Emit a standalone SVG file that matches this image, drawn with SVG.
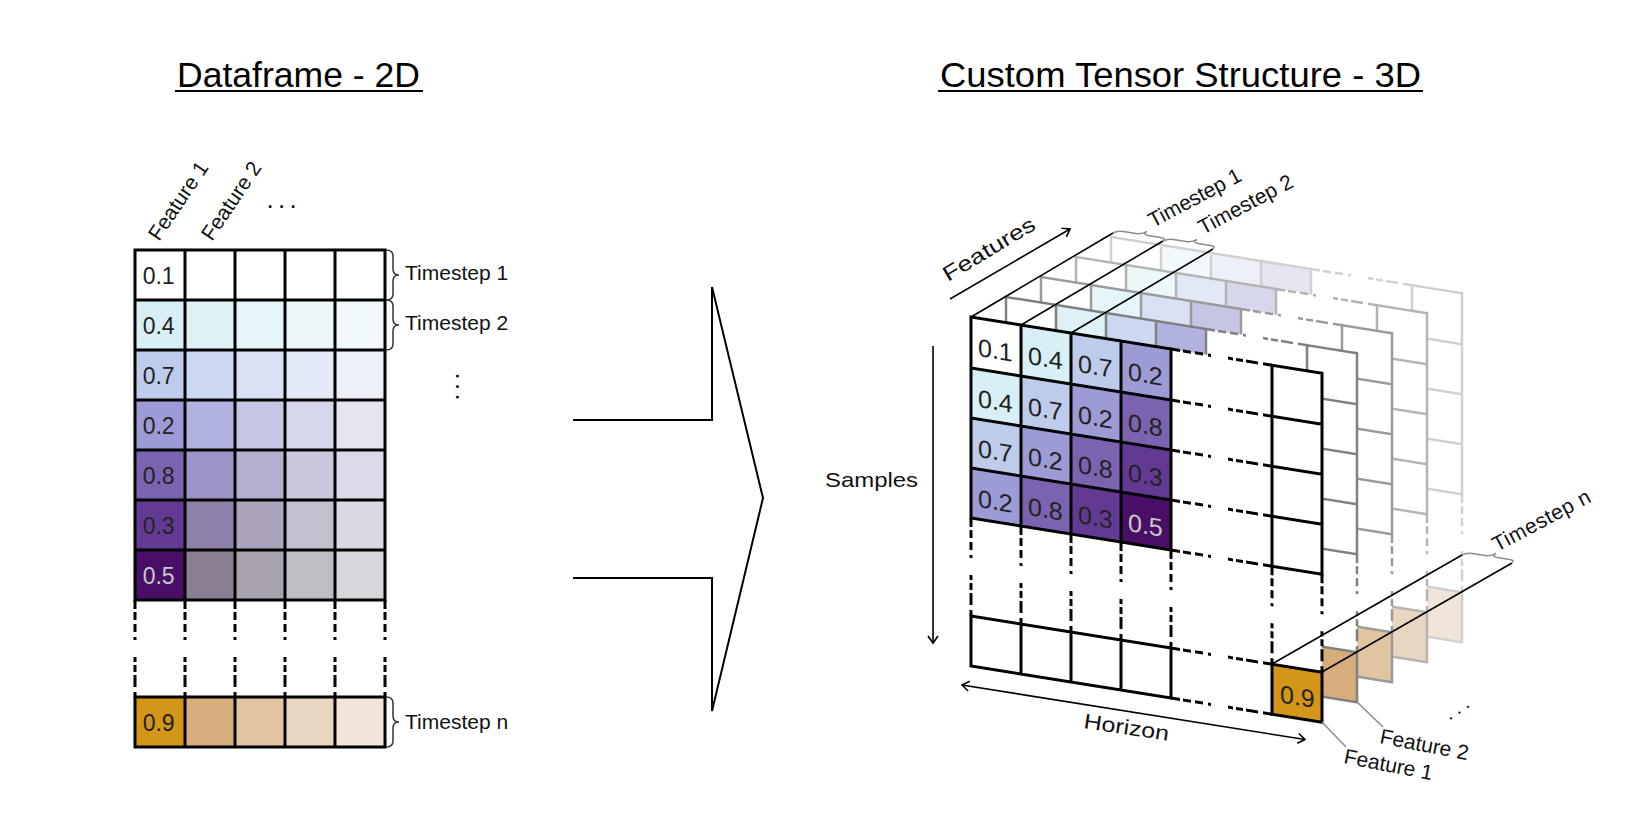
<svg xmlns="http://www.w3.org/2000/svg" width="1637" height="838" viewBox="0 0 1637 838">
<style>
text{font-family:"Liberation Sans",Arial,sans-serif}
.t{font-size:35px;fill:#000}
.ul{stroke:#000;stroke-width:1.8}
.num{font-size:23px;fill:#222}
.n3{font-size:25px}
.lt{fill:#C8C8C8}
.lbl{font-size:21px;fill:#111}
.g{fill:none;stroke-linecap:square}
.gd{fill:none;stroke-dasharray:9 3 8 4 8 5 3 17 5 3 7 3 12 5 10}
.ln{fill:none;stroke:#000;stroke-width:1.6}
.br{fill:none;stroke:#8c8c8c;stroke-width:1.5}
.lbr{fill:none;stroke:#333;stroke-width:1.5}
.lead{stroke:#8c8c8c;stroke-width:1.5}
.dots{fill:#111}
</style>
<defs>
<marker id="ah" viewBox="-9 -7 11 14" refX="0" refY="0" markerWidth="11" markerHeight="14" orient="auto-start-reverse" markerUnits="userSpaceOnUse"><path d="M-7,-5L0,0L-7,5" fill="none" stroke="#000" stroke-width="1.6"/></marker>
<g id="slab">
<path class="g" d="M0,0H200M0,51H200M0,101H200M0,151H200M0,201H200M0,0V201M50,0V201M100,0V201M150,0V201M200,0V201M0,299H200M0,349H200M0,299V349M50,299V349M100,299V349M150,299V349M200,299V349M301,0H351M301,51H351M301,101H351M301,151H351M301,201H351M301,299H351M301,349H351M301,0V201M351,0V201M301,299V349M351,299V349"/>
<path class="gd" d="M0,201V299M50,201V299M100,201V299M150,201V299M200,201V299M301,201V299M351,201V299M200,0H301M200,51H301M200,101H301M200,151H301M200,201H301M200,299H301M200,349H301"/>
</g>
<path id="brace" vector-effect="non-scaling-stroke" d="M0,0Q0,5 6,5L19,5Q25,5 25,11Q25,5 31,5L44,5Q50,5 50,0"/>
<path id="vbrace" d="M0,0Q7,0 7,6L7,19Q7,25 13,25Q7,25 7,31L7,44Q7,50 0,50"/>
</defs>

<g id="titles">
<text class="t" x="177" y="87" textLength="243" lengthAdjust="spacingAndGlyphs">Dataframe - 2D</text>
<line class="ul" x1="175" y1="91" x2="423" y2="91"/>
<text class="t" x="940" y="87" textLength="481" lengthAdjust="spacingAndGlyphs">Custom Tensor Structure - 3D</text>
<line class="ul" x1="938" y1="91" x2="1423" y2="91"/>
</g>

<g id="dataframe">
<rect x="135" y="250" width="250" height="350" fill="#fff"/>
<rect x="135" y="300" width="50" height="50" fill="#D7EFF5"/><rect x="185" y="300" width="50" height="50" fill="#DDF1F7"/><rect x="235" y="300" width="50" height="50" fill="#E6F5F9"/><rect x="285" y="300" width="50" height="50" fill="#ECF7FA"/><rect x="335" y="300" width="50" height="50" fill="#F2F9FC"/>
<rect x="135" y="350" width="50" height="50" fill="#BFCBEA"/><rect x="185" y="350" width="50" height="50" fill="#CCD8F2"/><rect x="235" y="350" width="50" height="50" fill="#D8E0F4"/><rect x="285" y="350" width="50" height="50" fill="#E2E8F6"/><rect x="335" y="350" width="50" height="50" fill="#EDF0F9"/>
<rect x="135" y="400" width="50" height="50" fill="#9C9BD6"/><rect x="185" y="400" width="50" height="50" fill="#B2B2E0"/><rect x="235" y="400" width="50" height="50" fill="#C5C5E5"/><rect x="285" y="400" width="50" height="50" fill="#D6D6EC"/><rect x="335" y="400" width="50" height="50" fill="#E5E5F1"/>
<rect x="135" y="450" width="50" height="50" fill="#7B63B0"/><rect x="185" y="450" width="50" height="50" fill="#9D93C7"/><rect x="235" y="450" width="50" height="50" fill="#B4AED1"/><rect x="285" y="450" width="50" height="50" fill="#CAC6DE"/><rect x="335" y="450" width="50" height="50" fill="#DCDAE8"/>
<rect x="135" y="500" width="50" height="50" fill="#633A93"/><rect x="185" y="500" width="50" height="50" fill="#8E81A9"/><rect x="235" y="500" width="50" height="50" fill="#ACA4BC"/><rect x="285" y="500" width="50" height="50" fill="#C3BFCF"/><rect x="335" y="500" width="50" height="50" fill="#DAD8E2"/>
<rect x="135" y="550" width="50" height="50" fill="#490F66"/><rect x="185" y="550" width="50" height="50" fill="#8A7F92"/><rect x="235" y="550" width="50" height="50" fill="#A7A2AD"/><rect x="285" y="550" width="50" height="50" fill="#C0BEC5"/><rect x="335" y="550" width="50" height="50" fill="#D7D6DA"/>
<rect x="135" y="697" width="50" height="50" fill="#D39618"/><rect x="185" y="697" width="50" height="50" fill="#D8AD7C"/><rect x="235" y="697" width="50" height="50" fill="#E1C5A3"/><rect x="285" y="697" width="50" height="50" fill="#E9D6C0"/><rect x="335" y="697" width="50" height="50" fill="#F1E5D9"/>
<g style="stroke:#000;stroke-width:3">
<path class="g" d="M135,250H385M135,300H385M135,350H385M135,400H385M135,450H385M135,500H385M135,550H385M135,600H385M135,250V600M185,250V600M235,250V600M285,250V600M335,250V600M385,250V600M135,697H385M135,747H385M135,697V747M185,697V747M235,697V747M285,697V747M335,697V747M385,697V747"/>
<path class="gd" d="M135,600V697M185,600V697M235,600V697M285,600V697M335,600V697M385,600V697"/>
</g>
<text class="num" x="142.7" y="283.5">0.1</text>
<text class="num" x="142.7" y="333.5">0.4</text>
<text class="num" x="142.7" y="383.5">0.7</text>
<text class="num" x="142.7" y="433.5">0.2</text>
<text class="num" x="142.7" y="483.5">0.8</text>
<text class="num" x="142.7" y="533.5">0.3</text>
<text class="num lt" x="142.7" y="583.5">0.5</text>
<text class="num" x="142.7" y="730.5">0.9</text>
<text class="lbl" font-size="20" transform="translate(159,242) rotate(-56)">Feature 1</text>
<text class="lbl" font-size="20" transform="translate(212,242) rotate(-56)">Feature 2</text>
<text class="dots" font-size="26" letter-spacing="4.3" x="266.4" y="208">...</text>
<use href="#vbrace" class="lbr" transform="translate(386,250)"/>
<use href="#vbrace" class="lbr" transform="translate(386,300)"/>
<use href="#vbrace" class="lbr" transform="translate(386,697)"/>
<text class="lbl" x="405" y="279.5">Timestep 1</text>
<text class="lbl" x="405" y="330">Timestep 2</text>
<text class="lbl" x="405" y="728.5">Timestep n</text>
<text class="dots" font-size="26" letter-spacing="3.3" transform="translate(455.6,372.4) rotate(90)">...</text>
</g>

<g id="connectors">
<polyline points="573,420 712,420 712,287 763,498 712,711 712,578 573,578" fill="none" stroke="#000" stroke-width="2"/>
</g>

<g id="tensor-3d">
<g id="layer-feature-5" transform="translate(1111,237) skewY(9.09)">
<rect width="351" height="349" fill="#fff"/>
<rect x="50" width="50" height="51" fill="#F2F9FC"/><rect x="100" width="50" height="51" fill="#EDF0F9"/><rect x="150" width="50" height="51" fill="#E5E5F1"/>
<rect x="301" y="299" width="50" height="50" fill="#F1E5D9"/>
<use href="#slab" style="stroke:#D0D0D0;stroke-width:2.5"/>
</g>
<g id="layer-feature-4" transform="translate(1076,257) skewY(9.09)">
<rect width="351" height="349" fill="#fff"/>
<rect x="50" width="50" height="51" fill="#ECF7FA"/><rect x="100" width="50" height="51" fill="#E2E8F6"/><rect x="150" width="50" height="51" fill="#D6D6EC"/>
<rect x="301" y="299" width="50" height="50" fill="#E9D6C0"/>
<use href="#slab" style="stroke:#B4B4B4;stroke-width:2.5"/>
</g>
<g id="layer-feature-3" transform="translate(1041,277) skewY(9.09)">
<rect width="351" height="349" fill="#fff"/>
<rect x="50" width="50" height="51" fill="#E6F5F9"/><rect x="100" width="50" height="51" fill="#D8E0F4"/><rect x="150" width="50" height="51" fill="#C5C5E5"/>
<rect x="301" y="299" width="50" height="50" fill="#E1C5A3"/>
<use href="#slab" style="stroke:#9A9A9A;stroke-width:2.5"/>
</g>
<g id="layer-feature-2" transform="translate(1006,297) skewY(9.09)">
<rect width="351" height="349" fill="#fff"/>
<rect x="50" width="50" height="51" fill="#DDF1F7"/><rect x="100" width="50" height="51" fill="#CCD8F2"/><rect x="150" width="50" height="51" fill="#B2B2E0"/>
<rect x="301" y="299" width="50" height="50" fill="#D8AD7C"/>
<use href="#slab" style="stroke:#808080;stroke-width:2.5"/>
</g>
<g id="layer-feature-1" transform="translate(971,317) skewY(9.09)">
<rect width="351" height="349" fill="#fff"/>
<rect x="50" y="0" width="50" height="51" fill="#D7EFF5"/><rect x="100" y="0" width="50" height="51" fill="#BFCBEA"/><rect x="150" y="0" width="50" height="51" fill="#9C9BD6"/>
<rect x="0" y="51" width="50" height="50" fill="#D7EFF5"/><rect x="50" y="51" width="50" height="50" fill="#BFCBEA"/><rect x="100" y="51" width="50" height="50" fill="#9C9BD6"/><rect x="150" y="51" width="50" height="50" fill="#7B63B0"/>
<rect x="0" y="101" width="50" height="50" fill="#BFCBEA"/><rect x="50" y="101" width="50" height="50" fill="#9C9BD6"/><rect x="100" y="101" width="50" height="50" fill="#7B63B0"/><rect x="150" y="101" width="50" height="50" fill="#633A93"/>
<rect x="0" y="151" width="50" height="50" fill="#9C9BD6"/><rect x="50" y="151" width="50" height="50" fill="#7B63B0"/><rect x="100" y="151" width="50" height="50" fill="#633A93"/><rect x="150" y="151" width="50" height="50" fill="#490F66"/>
<rect x="301" y="299" width="50" height="50" fill="#D39618"/>
<use href="#slab" style="stroke:#000;stroke-width:3"/>
<text class="num n3" x="7" y="38">0.1</text><text class="num n3" x="57" y="38">0.4</text><text class="num n3" x="107" y="38">0.7</text><text class="num n3" x="157" y="38">0.2</text>
<text class="num n3" x="7" y="89">0.4</text><text class="num n3" x="57" y="89">0.7</text><text class="num n3" x="107" y="89">0.2</text><text class="num n3" x="157" y="89">0.8</text>
<text class="num n3" x="7" y="139">0.7</text><text class="num n3" x="57" y="139">0.2</text><text class="num n3" x="107" y="139">0.8</text><text class="num n3" x="157" y="139">0.3</text>
<text class="num n3" x="7" y="189">0.2</text><text class="num n3" x="57" y="189">0.8</text><text class="num n3" x="107" y="189">0.3</text><text class="num n3 lt" x="157" y="189">0.5</text>
<text class="num n3" x="309" y="336">0.9</text>
</g>
<g id="timestep-edges">
<line class="ln" x1="971" y1="317" x2="1113" y2="233"/>
<line class="ln" x1="1021" y1="325" x2="1163" y2="241"/>
<line class="ln" x1="1071" y1="333" x2="1213" y2="249"/>
<line class="ln" x1="1272" y1="664" x2="1462" y2="555"/>
<line class="ln" x1="1322" y1="672" x2="1512" y2="563"/>
<use href="#brace" class="br" transform="matrix(0.987 0.158 0.865 -0.5 1113 233)"/>
<use href="#brace" class="br" transform="matrix(0.987 0.158 0.865 -0.5 1163 241)"/>
<use href="#brace" class="br" transform="matrix(0.987 0.158 0.865 -0.5 1462 555)"/>
</g>
<g id="labels-3d">
<text class="lbl" textLength="102" lengthAdjust="spacing" transform="translate(1153,228) rotate(-28)">Timestep 1</text>
<text class="lbl" textLength="104" lengthAdjust="spacing" transform="translate(1203,235) rotate(-28)">Timestep 2</text>
<text class="lbl" textLength="108" lengthAdjust="spacing" transform="translate(1497,552) rotate(-28)">Timestep n</text>
<text class="lbl" font-size="26" textLength="104" lengthAdjust="spacingAndGlyphs" transform="translate(948,282) rotate(-31)">Features</text>
<line class="ln" x1="950" y1="299" x2="1070" y2="229" marker-end="url(#ah)"/>
<text class="lbl" font-size="25" textLength="93" lengthAdjust="spacingAndGlyphs" x="825" y="487">Samples</text>
<line class="ln" x1="933" y1="346" x2="933" y2="643" marker-end="url(#ah)"/>
<line class="ln" x1="962" y1="685" x2="1305" y2="739.5" marker-start="url(#ah)" marker-end="url(#ah)"/>
<text class="lbl" font-size="24" textLength="86" lengthAdjust="spacingAndGlyphs" transform="translate(1083,728) rotate(8.5)">Horizon</text>
<line class="lead" x1="1322" y1="722" x2="1346" y2="747"/>
<line class="lead" x1="1357" y1="702" x2="1383" y2="727"/>
<text class="lbl" transform="translate(1343,763) rotate(11)">Feature 1</text>
<text class="lbl" transform="translate(1379,743) rotate(11)">Feature 2</text>
<text class="dots" font-size="20" letter-spacing="4.6" transform="translate(1449.3,720.7) rotate(-34)">...</text>
</g>
</g>
</svg>
